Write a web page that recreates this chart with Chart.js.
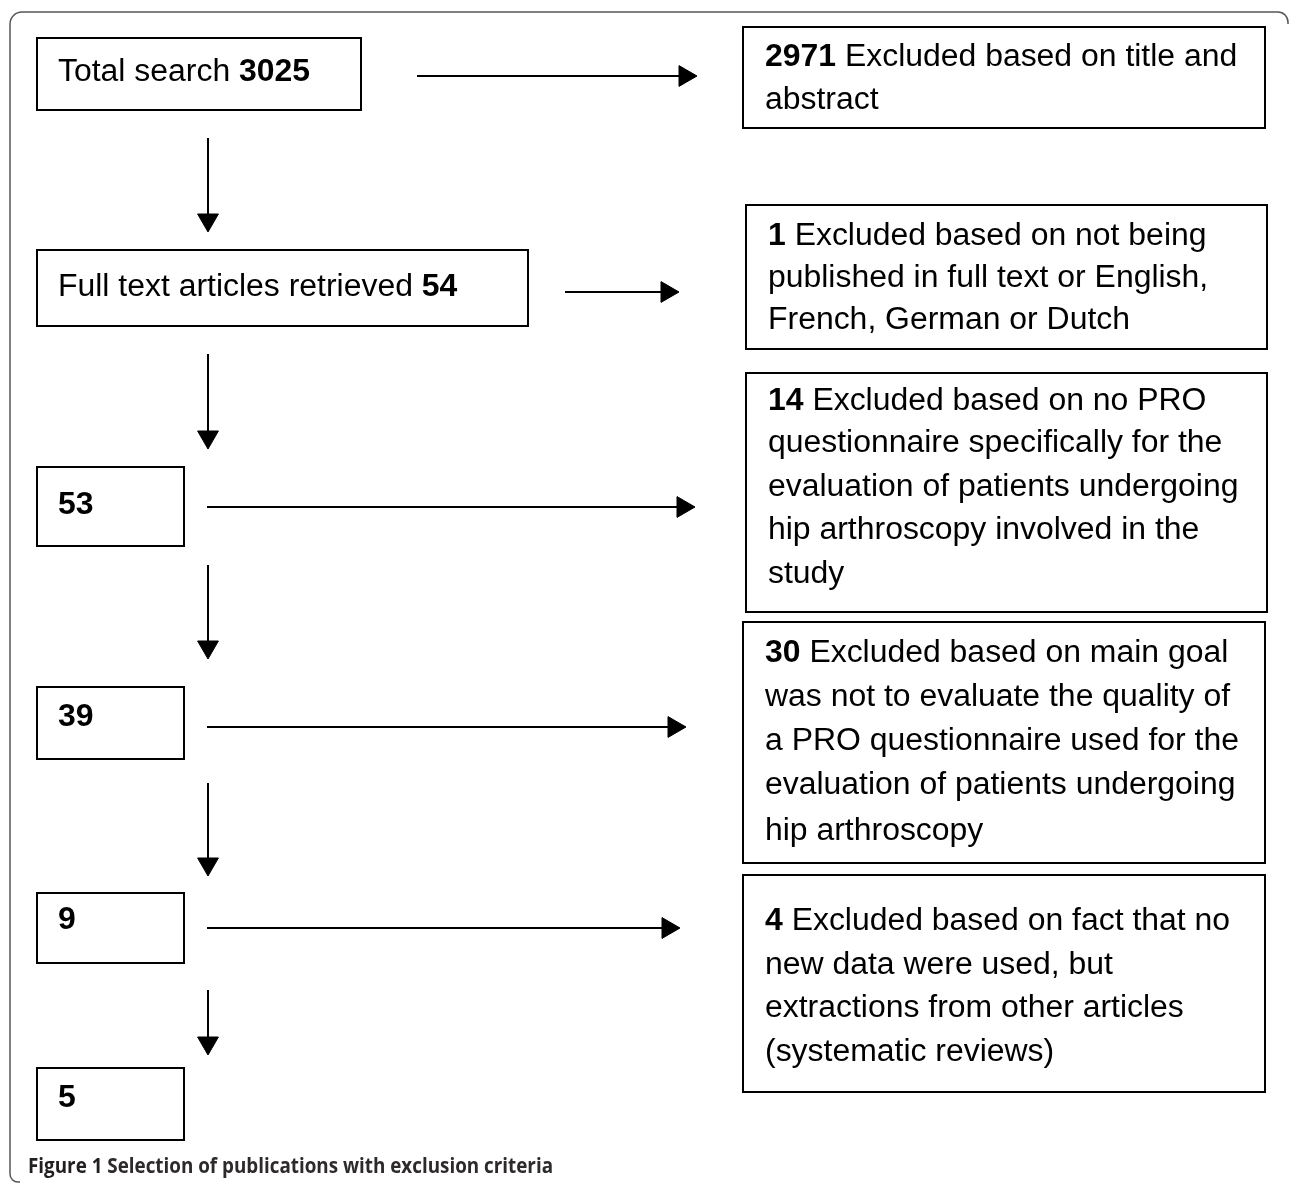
<!DOCTYPE html>
<html>
<head>
<meta charset="utf-8">
<title>Selection of publications with exclusion criteria</title>
<script src="https://cdn.jsdelivr.net/npm/chart.js@4.4.1/dist/chart.umd.min.js"></script>
<style>
  html, body { margin: 0; padding: 0; background: #fff; }
  canvas { display: block; }
</style>
</head>
<body>
<canvas id="flowChart" width="1290" height="1183"></canvas>
<script>
// --- data ---
const stepLabels = ['Total search', 'Full text articles retrieved', '', '', '', ''];
const stepCounts = [3025, 54, 53, 39, 9, 5];
const excludedCounts = [2971, 1, 14, 30, 4];
const excludedLines = [
    ['Excluded based on title and', 'abstract'],
    ['Excluded based on not being', 'published in full text or English,', 'French, German or Dutch'],
    ['Excluded based on no PRO', 'questionnaire specifically for the', 'evaluation of patients undergoing', 'hip arthroscopy involved in the', 'study'],
    ['Excluded based on main goal', 'was not to evaluate the quality of', 'a PRO questionnaire used for the', 'evaluation of patients undergoing', 'hip arthroscopy'],
    ['Excluded based on fact that no', 'new data were used, but', 'extractions from other articles', '(systematic reviews)']
];
const captionBold = 'Figure 1';
const captionText = 'Selection of publications with exclusion criteria';

// --- layout (axis units, 1 unit = 1 px) ---
const leftBoxes = [[37, 38, 361, 110], [37, 250, 528, 326], [37, 467, 184, 546], [37, 687, 184, 759], [37, 893, 184, 963], [37, 1068, 184, 1140]];
const leftTextY = [72, 287, 505, 717, 920, 1098];
const rightBoxes = [[743, 27, 1265, 128], [746, 205, 1267, 349], [746, 373, 1267, 612], [743, 622, 1265, 863], [743, 875, 1265, 1092]];
const rightTextX = [765, 768, 768, 765, 765];
const rightTextY = [[57, 100], [236, 278, 320], [401, 443, 487, 530, 574], [653, 697, 741, 785, 831], [921, 965, 1008, 1052]];
const arrowsRight = [[417, 697, 76], [565, 679, 292], [207, 695, 507], [207, 686, 727], [207, 680, 928]];
const arrowsDown = [[208, 138, 232], [208, 354, 449], [208, 565, 659], [208, 783, 876], [208, 990, 1055]];
const headR = 12;

const fontFamily = '"Liberation Sans", Arial, Helvetica, sans-serif';
const fontSize = 31;
const stretchX = 1.03;

const arrowDatasets = [];
arrowsRight.forEach(a => {
    arrowDatasets.push({
        data: [{ x: a[0], y: a[2] }, { x: a[1] - headR, y: a[2] }],
        pointRadius: [0, headR],
        pointRotation: 90
    });
});
arrowsDown.forEach(a => {
    arrowDatasets.push({
        data: [{ x: a[0], y: a[1] }, { x: a[0], y: a[2] - headR }],
        pointRadius: [0, headR],
        pointRotation: 180
    });
});
arrowDatasets.forEach(d => {
    d.showLine = true;
    d.borderColor = '#000';
    d.borderWidth = 2;
    d.pointStyle = 'triangle';
    d.pointBackgroundColor = '#000';
    d.pointBorderColor = '#000';
    d.pointBorderWidth = 1;
});

function drawRuns(ctx, runs, x, y) {
    ctx.save();
    ctx.translate(x, y);
    ctx.scale(stretchX, 1);
    let cx = 0;
    runs.forEach(r => {
        ctx.font = (r.bold ? 'bold ' : '') + fontSize + 'px ' + fontFamily;
        ctx.fillText(r.text, cx, 0);
        cx += ctx.measureText(r.text).width;
    });
    ctx.restore();
}

const flowPlugin = {
    id: 'flowBoxes',
    beforeDraw(chart) {
        const ctx = chart.ctx;
        ctx.save();
        ctx.fillStyle = '#fff';
        ctx.fillRect(0, 0, chart.width, chart.height);
        ctx.restore();
    },
    beforeDatasetsDraw(chart) {
        const ctx = chart.ctx;
        const xs = chart.scales.x, ys = chart.scales.y;
        const px = v => xs.getPixelForValue(v);
        const py = v => ys.getPixelForValue(v);

        // outer frame
        ctx.save();
        ctx.strokeStyle = '#555';
        ctx.lineWidth = 1.5;
        ctx.beginPath();
        ctx.moveTo(px(20), py(1182));
        ctx.arcTo(px(10), py(1182), px(10), py(1172), 8);
        ctx.lineTo(px(10), py(24));
        ctx.arcTo(px(10), py(12), px(22), py(12), 12);
        ctx.lineTo(px(1278), py(12));
        ctx.arcTo(px(1288), py(12), px(1288), py(22), 10);
        ctx.lineTo(px(1288), py(24));
        ctx.stroke();
        ctx.restore();

        ctx.save();
        ctx.strokeStyle = '#000';
        ctx.lineWidth = 2;
        ctx.fillStyle = '#000';
        ctx.textBaseline = 'middle';
        leftBoxes.forEach((b, i) => {
            ctx.strokeRect(px(b[0]), py(b[1]), px(b[2]) - px(b[0]), py(b[3]) - py(b[1]));
            const runs = [];
            if (stepLabels[i]) runs.push({ text: stepLabels[i] + ' ', bold: false });
            runs.push({ text: String(stepCounts[i]), bold: true });
            drawRuns(ctx, runs, px(58), py(leftTextY[i]));
        });
        rightBoxes.forEach((b, i) => {
            ctx.strokeRect(px(b[0]), py(b[1]), px(b[2]) - px(b[0]), py(b[3]) - py(b[1]));
            excludedLines[i].forEach((line, j) => {
                const runs = j === 0
                    ? [{ text: String(excludedCounts[i]), bold: true }, { text: ' ' + line, bold: false }]
                    : [{ text: line, bold: false }];
                drawRuns(ctx, runs, px(rightTextX[i]), py(rightTextY[i][j]));
            });
        });
        ctx.restore();

        // caption
        ctx.save();
        ctx.fillStyle = '#231f20';
        ctx.textBaseline = 'alphabetic';
        const capFam = '"Open Sans", "Noto Sans", sans-serif';
        const capFont = 'bold 22px ' + capFam;
        ctx.font = capFont;
        const w1 = ctx.measureText(captionBold + ' ').width;
        const w2 = ctx.measureText(captionText).width;
        const sx = 525 / (w1 + w2);
        ctx.translate(px(28), py(1173));
        ctx.scale(sx, 1);
        ctx.fillText(captionBold + ' ', 0, 0);
        ctx.fillStyle = '#2e2a2b';
        ctx.fillText(captionText, w1, 0);
        ctx.restore();
    }
};

const ctx = document.getElementById('flowChart').getContext('2d');
const flowChart = new Chart(ctx, {
    type: 'scatter',
    data: { datasets: arrowDatasets },
    options: {
        responsive: false,
        animation: false,
        events: [],
        layout: { padding: 0, autoPadding: false },
        scales: {
            x: { type: 'linear', min: 0, max: 1290, display: false },
            y: { type: 'linear', min: 0, max: 1183, reverse: true, display: false }
        },
        plugins: {
            legend: { display: false },
            tooltip: { enabled: false }
        }
    },
    plugins: [flowPlugin]
});
</script>
</body>
</html>
